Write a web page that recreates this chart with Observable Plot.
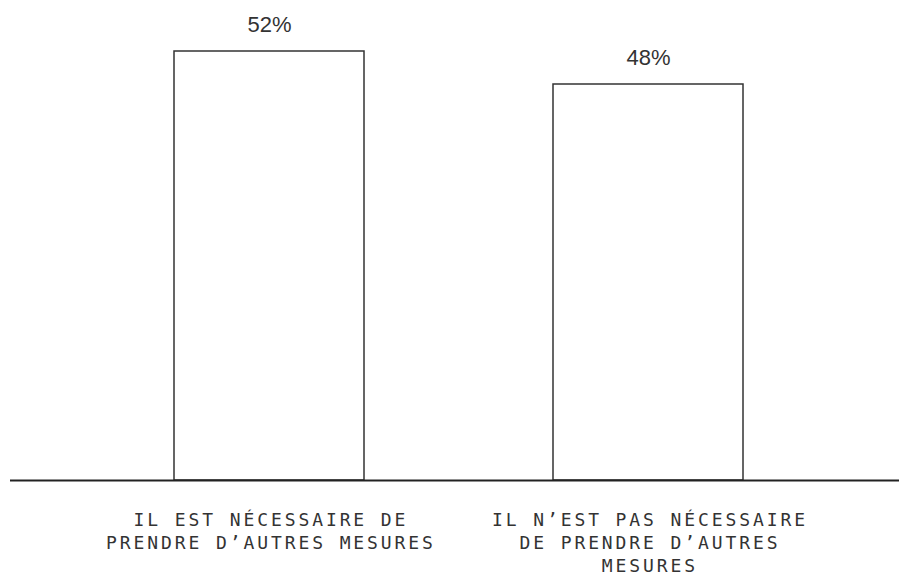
<!DOCTYPE html>
<html>
<head>
<meta charset="utf-8">
<script src="https://cdn.jsdelivr.net/npm/d3@7"></script>
<script src="https://cdn.jsdelivr.net/npm/@observablehq/plot@0.6"></script>
<style>
  html, body { margin: 0; padding: 0; background: #fff; }
  #chart svg { display: block; }
</style>
</head>
<body>
<div id="chart"></div>
<script>
const categories = ["yes", "no"];
const values = [52, 48];
const tickLabels = [
  ["IL EST NÉCESSAIRE DE", "PRENDRE D’AUTRES MESURES"],
  ["IL N’EST PAS NÉCESSAIRE", "DE PRENDRE D’AUTRES", "MESURES"]
];
const valueLabels = ["52%", "48%"];

const data = categories.map((c, i) => ({ cat: c, value: values[i], label: valueLabels[i] }));
const labelMap = new Map(categories.map((c, i) => [c, tickLabels[i].join("\n")]));

const chart = Plot.plot({
  width: 899,
  height: 575,
  marginTop: 51,
  marginBottom: 95,
  marginLeft: 10,
  marginRight: 0,
  x: { domain: categories, paddingInner: 0.5, paddingOuter: 0.4228, align: 0.512, label: null },
  y: { domain: [0, 52], axis: null },
  marks: [
    Plot.barY(data, { x: "cat", y: "value", fill: "white", stroke: "#333", strokeWidth: 1.5 }),
    Plot.text(data, { x: "cat", y: "value", text: "label", dy: -27, fontSize: 22, fill: "#333",
      fontFamily: "'Liberation Sans', Arial, sans-serif" }),
    Plot.ruleY([0], { stroke: "#222", strokeWidth: 2 }),
    Plot.axisX({ tickSize: 0, tickPadding: 29, fontSize: 18, lineHeight: 1.28, dx: 1.45,
      fontFamily: "'DejaVu Sans Mono', monospace", fill: "#333", label: null,
      tickFormat: d => labelMap.get(d), textAnchor: "middle" })
  ],
  style: { fontFamily: "'DejaVu Sans Mono', monospace", background: "white", color: "#333" }
});
chart.querySelectorAll('[aria-label="x-axis tick label"] text').forEach(t => t.setAttribute("letter-spacing", "2.9"));
document.getElementById("chart").appendChild(chart);
</script>
</body>
</html>
